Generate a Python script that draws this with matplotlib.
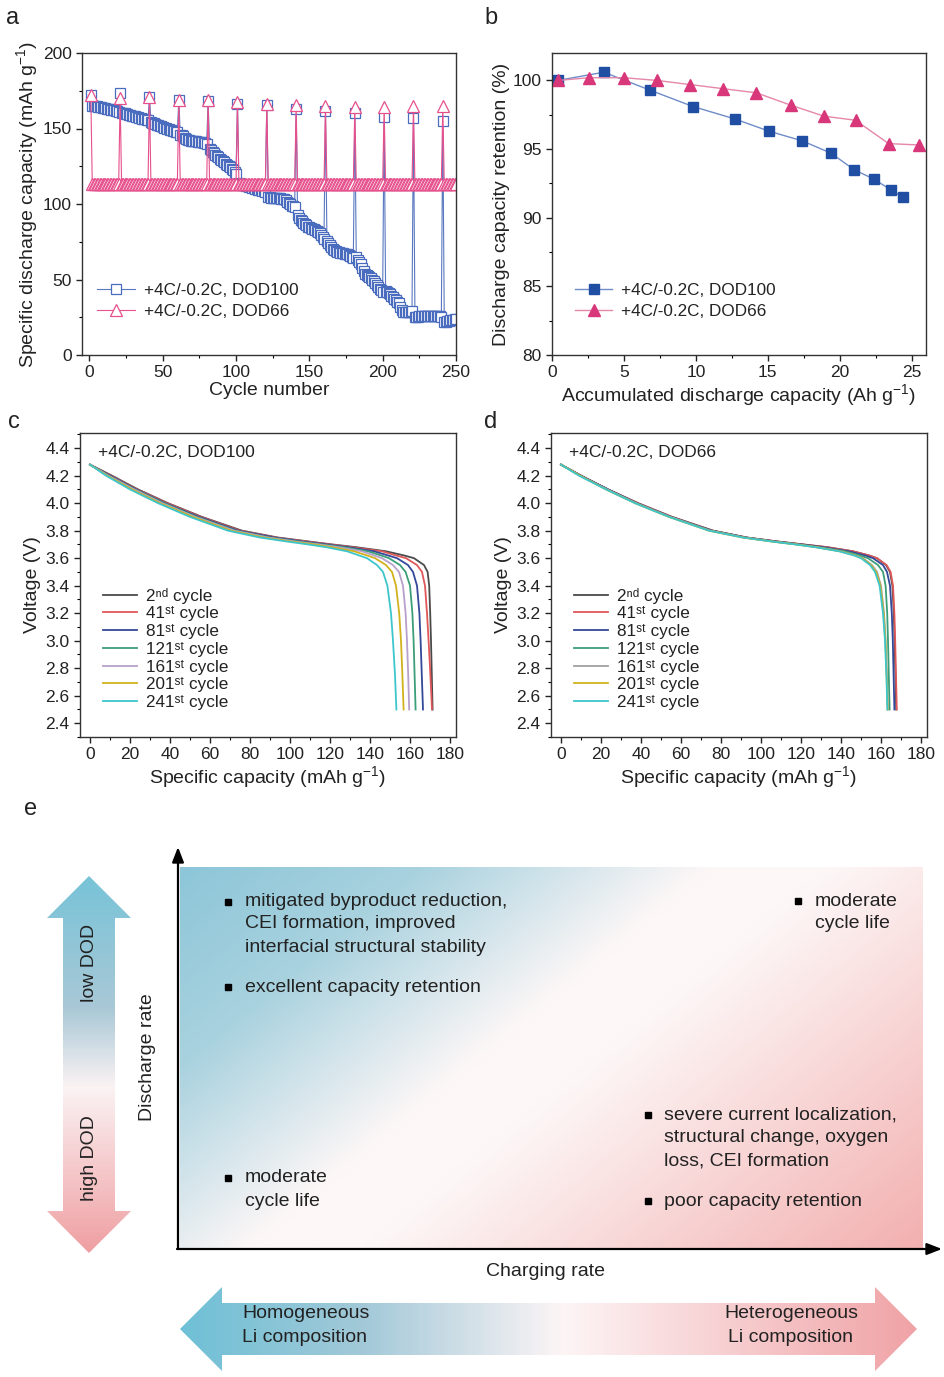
import numpy as np
import matplotlib
matplotlib.use("Agg")
import matplotlib.pyplot as plt
import matplotlib.ticker as ticker
from matplotlib.colors import LinearSegmentedColormap
from matplotlib.patches import Polygon

plt.rcParams['font.family'] = ['Liberation Sans', 'DejaVu Sans']
plt.rcParams['mathtext.fontset'] = 'custom'
plt.rcParams['mathtext.rm'] = 'Liberation Sans'
plt.rcParams['mathtext.it'] = 'Liberation Sans:italic'
plt.rcParams['axes.linewidth'] = 1.0

# ---------------- data: panel a (capacity vs cycle) ----------------
# check-up cycles 1, 21, 41, ... 241
dod100_check = [172, 173.5, 171, 169, 168.5, 166.5, 165.5, 163, 161.3, 160, 157.6, 157, 155]
dod66_check = [172, 170, 171, 169, 169, 167.5, 166.4, 165.3, 164.6, 164, 164, 164.6, 164.6]
dod66_regular = 113.0

# regular cycles between check-ups (2-20, 22-40, ..., 242-250)
dod100_blocks = [
    [165, 165, 164.8, 164.6, 164.4, 164.2, 164, 163.8, 163.6, 163.4, 163.2, 163, 162.8, 162.5, 162.3, 162, 161.8, 161.5, 161.2],
    [160.5, 160.2, 160, 159.7, 159.4, 159.1, 158.8, 158.5, 158.2, 158, 157.7, 157.4, 157.1, 156.8, 156.5, 156.2, 156, 155.7, 155.4],
    [154, 153.7, 153.4, 153, 152.6, 152.2, 151.8, 151.4, 151, 150.6, 150.2, 149.8, 149.5, 149.2, 148.9, 148.6, 148.3, 148, 147.6],
    [146, 145.5, 144.8, 143.6, 143, 142.6, 142.3, 142, 141.8, 141.6, 141.5, 141.4, 141.3, 141.2, 141, 140.8, 140.5, 140.3, 140],
    [136.6, 135.5, 134.5, 133.5, 132.5, 131.6, 130.8, 130, 129.2, 128.4, 127.6, 126.8, 126, 125.2, 124.2, 123.2, 122.2, 121.2, 120],
    [113.8, 113.3, 112.9, 112.6, 112.3, 112, 111.7, 111.4, 111.1, 110.8, 110.5, 110.2, 109.9, 109.6, 109.3, 109, 108.7, 108.4, 108],
    [104.5, 104.4, 104.3, 104.2, 104.1, 104, 104, 103.9, 103.8, 103.6, 103.4, 103, 102.4, 101.6, 100.6, 99.8, 99, 98.5, 98],
    [92.4, 91, 89.6, 88.6, 87.6, 86.6, 85.8, 85, 84.6, 84, 83.6, 83.2, 82.8, 82.4, 81.6, 80.6, 79.6, 78.4, 77],
    [75.8, 74.2, 72.8, 71.4, 70.4, 69.6, 68.9, 68.4, 68, 67.8, 67.6, 67.4, 67.2, 67, 66.6, 66.2, 65.6, 65, 64.5],
    [64.7, 63, 61.5, 60, 57.5, 55.5, 53.7, 53, 52.3, 51.5, 50.8, 50, 49.3, 48, 46.5, 45, 44, 42.8, 41.5],
    [42.7, 41.8, 41, 40.4, 39.3, 38.2, 37, 36.2, 35.4, 34.6, 32, 29.5, 28.3, 28.3, 28.3, 28.4, 28.6, 28.8, 29],
    [25, 25.2, 25.4, 25.6, 25.8, 25.9, 26, 26, 26, 26, 26, 26, 26, 26, 25.9, 25.8, 25.7, 25.6, 25.4],
    [21.7, 22, 22.3, 22.6, 22.9, 23.2, 23.5, 23.8, 24],
]

dod100 = []
dod66 = []
for chk100, chk66, block in zip(dod100_check, dod66_check, dod100_blocks):
    dod100 += [chk100] + block
    dod66 += [chk66] + [dod66_regular] * len(block)
cycles = np.arange(1, len(dod100) + 1)

# ---------------- data: panel b (retention) ----------------
acc100 = [0.4, 3.6, 6.8, 9.8, 12.7, 15.1, 17.4, 19.4, 21.0, 22.4, 23.6, 24.4]
ret100 = [100.0, 100.6, 99.3, 98.1, 97.2, 96.3, 95.6, 94.7, 93.5, 92.8, 92.0, 91.5]
acc66 = [0.4, 2.6, 5.0, 7.3, 9.6, 11.9, 14.2, 16.6, 18.9, 21.1, 23.4, 25.5]
ret66 = [100.0, 100.2, 100.2, 100.0, 99.7, 99.4, 99.1, 98.2, 97.4, 97.1, 95.4, 95.3]

# ---------------- data: panels c, d (voltage profiles) ----------------
volt_grid = [4.28, 4.2, 4.1, 4.0, 3.9, 3.8, 3.75, 3.72, 3.70, 3.68, 3.65, 3.62,
             3.60, 3.55, 3.50, 3.40, 3.20, 3.00, 2.75, 2.50]
cycle_labels = ['2ⁿᵈ cycle', '41ˢᵗ cycle', '81ˢᵗ cycle', '121ˢᵗ cycle',
                '161ˢᵗ cycle', '201ˢᵗ cycle', '241ˢᵗ cycle']
cycle_colors = ['#4a4a4a', '#e0575a', '#34489a', '#3b9e78', '#b8a0cc', '#d2b21c', '#3cc6cc']
cycle_colors_d = ['#4a4a4a', '#e0575a', '#34489a', '#3b9e78', '#a0a0a0', '#d2b21c', '#3cc6cc']

cap_c = [
    [0, 11, 24, 39, 56, 76, 94, 110, 121, 133, 148, 157, 162, 167, 168.8, 169.6, 170.1, 170.5, 170.9, 171.3],
    [0, 10.5, 23.5, 38.5, 55.5, 75, 93, 109, 120, 131, 146, 153, 158, 163.5, 166, 167.5, 168.5, 169.3, 170.2, 171],
    [0, 10, 23, 37.5, 54.5, 74, 92, 107, 118, 129, 142, 149, 153.5, 159, 161.5, 163.5, 164.7, 165.3, 165.9, 166.5],
    [0, 9.5, 22.5, 37, 53.5, 73, 90, 105, 116, 127, 139, 145.5, 149.5, 155, 157.8, 160, 161.2, 161.8, 162.3, 162.8],
    [0, 9, 22, 36, 52.5, 72, 89, 103, 114, 124, 136, 142, 146, 151.5, 154.5, 156.5, 157.8, 158.5, 159.1, 159.6],
    [0, 8.5, 21, 35, 51.5, 70.5, 87, 101, 112, 121, 132, 138.5, 142.5, 148, 151, 153, 154.6, 155.5, 156.2, 156.8],
    [0, 8, 20, 34, 50, 69, 85, 99, 109, 118, 128.5, 134.5, 138.5, 143.5, 146.5, 148.7, 150.5, 151.5, 152.5, 153.2],
]
cap_d = [
    [0, 10, 23.5, 38.5, 55.5, 76, 93, 109, 121, 133, 146, 154, 158, 162.5, 164.5, 165.7, 166.4, 166.8, 167.2, 167.6],
    [0, 10, 23.5, 38.5, 55.5, 76, 93, 109, 121, 133, 146, 154, 158, 162.8, 164.8, 166, 166.7, 167.1, 167.5, 167.9],
    [0, 10, 23.5, 38, 55, 75.5, 92.5, 108, 120, 131, 144, 152, 156, 161, 163, 164.5, 165.4, 165.9, 166.3, 166.7],
    [0, 9.5, 23, 37.5, 54.5, 75, 92, 107, 118.5, 129, 142, 149.5, 153.5, 158.5, 161, 162.3, 163.1, 163.5, 163.9, 164.3],
    [0, 9.5, 23, 37.5, 54.5, 74.5, 91.5, 106.5, 118, 128, 140, 147.5, 151, 155.5, 158, 160, 161.5, 162.3, 162.9, 163.4],
    [0, 9.5, 22.5, 37, 54, 74, 91, 106, 117.5, 127.5, 139.5, 147, 150.5, 155, 157.5, 159.7, 161.3, 162.2, 162.8, 163.3],
    [0, 9, 22.5, 37, 54, 74, 91, 106, 117, 127, 139, 146.5, 150, 154.5, 157, 159.3, 161, 162, 162.7, 163.2],
]

W, H = 944, 1377
fig = plt.figure(figsize=(W / 100, H / 100), dpi=100)

# overlay axes in pixel coordinates (for panel e and labels)
ov = fig.add_axes([0, 0, 1, 1])
ov.set_xlim(0, W)
ov.set_ylim(H, 0)
ov.axis('off')


def px_rect(left, top, right, bottom):
    return [left / W, 1 - bottom / H, (right - left) / W, (bottom - top) / H]


def style_axis(ax):
    ax.tick_params(which='major', direction='out', length=4.5, width=1, labelsize=12.5, colors='#222222', pad=3)
    ax.tick_params(which='minor', direction='out', length=2.5, width=0.8)
    for s in ax.spines.values():
        s.set_color('#333333')


TXT = '#222222'
FS_LAB = 14
FS_LEG = 12.3

# ---------------- panel a ----------------
ax = fig.add_axes(px_rect(82, 53, 456, 355))
ax.plot(cycles, dod100, '-s', color='#5a78c0', lw=0.8, ms=7.5, mfc='white', mec='#4a6cbf',
        mew=0.9, label='+4C/-0.2C, DOD100')
ax.plot(cycles, dod66, '-^', color='#e6508c', lw=0.8, ms=8.5, mfc='white', mec='#e6508c',
        mew=0.9, label='+4C/-0.2C, DOD66')
ax.set_xlim(-5, 250)
ax.set_ylim(0, 200)
ax.xaxis.set_major_locator(ticker.MultipleLocator(50))
ax.xaxis.set_minor_locator(ticker.MultipleLocator(25))
ax.yaxis.set_major_locator(ticker.MultipleLocator(50))
ax.yaxis.set_minor_locator(ticker.MultipleLocator(25))
style_axis(ax)
ax.set_xlabel('Cycle number', fontsize=FS_LAB, color=TXT, labelpad=1)
ax.set_ylabel('Specific discharge capacity (mAh g$^{\\mathregular{-1}}$)', fontsize=FS_LAB, color=TXT, labelpad=2)
ax.legend(loc='center left', bbox_to_anchor=(0.0, 0.18), frameon=False, fontsize=FS_LEG,
          handlelength=2.2, labelspacing=0.35, handletextpad=0.5, labelcolor=TXT)

# ---------------- panel b ----------------
ax = fig.add_axes(px_rect(552, 53, 926, 355))
ax.plot(acc100, ret100, '-s', color='#6f8cc8', lw=1.0, ms=7.5, mfc='#1f4ea3', mec='#1f4ea3',
        label='+4C/-0.2C, DOD100')
ax.plot(acc66, ret66, '-^', color='#e487aa', lw=1.0, ms=8.5, mfc='#d8377a', mec='#d8377a',
        label='+4C/-0.2C, DOD66')
ax.set_xlim(0, 26)
ax.set_ylim(80, 102)
ax.xaxis.set_major_locator(ticker.MultipleLocator(5))
ax.xaxis.set_minor_locator(ticker.MultipleLocator(2.5))
ax.yaxis.set_major_locator(ticker.MultipleLocator(5))
ax.yaxis.set_minor_locator(ticker.MultipleLocator(2.5))
style_axis(ax)
ax.set_xlabel('Accumulated discharge capacity (Ah g$^{\\mathregular{-1}}$)', fontsize=FS_LAB, color=TXT, labelpad=1)
ax.set_ylabel('Discharge capacity retention (%)', fontsize=FS_LAB, color=TXT, labelpad=2)
ax.legend(loc='center left', bbox_to_anchor=(0.02, 0.18), frameon=False, fontsize=FS_LEG,
          handlelength=2.2, labelspacing=0.35, handletextpad=0.5, labelcolor=TXT)

# ---------------- panels c and d ----------------
for rect, caps, colors, title in [((80, 433, 456, 737), cap_c, cycle_colors, '+4C/-0.2C, DOD100'),
                                  ((551, 433, 927, 737), cap_d, cycle_colors_d, '+4C/-0.2C, DOD66')]:
    ax = fig.add_axes(px_rect(*rect))
    for cap, col, lab in zip(caps, colors, cycle_labels):
        ax.plot(cap, volt_grid, color=col, lw=1.3, label=lab)
    ax.set_xlim(-5, 183)
    ax.set_ylim(2.3, 4.51)
    ax.xaxis.set_major_locator(ticker.MultipleLocator(20))
    ax.xaxis.set_minor_locator(ticker.MultipleLocator(10))
    ax.yaxis.set_major_locator(ticker.MultipleLocator(0.2))
    ax.yaxis.set_minor_locator(ticker.MultipleLocator(0.1))
    ax.yaxis.set_major_formatter(ticker.FormatStrFormatter('%.1f'))
    style_axis(ax)
    ax.set_xlabel('Specific capacity (mAh g$^{\\mathregular{-1}}$)', fontsize=FS_LAB, color=TXT, labelpad=1)
    ax.set_ylabel('Voltage (V)', fontsize=FS_LAB, color=TXT, labelpad=3)
    ax.text(0.048, 0.96, title, transform=ax.transAxes, fontsize=12.5, color=TXT, va='top')
    ax.legend(loc='center left', bbox_to_anchor=(0.02, 0.29), frameon=False, fontsize=12.3,
              handlelength=2.0, labelspacing=0.16, handletextpad=0.5, labelcolor=TXT)

# ---------------- panel labels ----------------
for lab, x, y in [('a', 6, 18), ('b', 484, 18), ('c', 8, 422), ('d', 484, 422), ('e', 24, 809)]:
    ov.text(x, y, lab, fontsize=17, ha='left', va='center', color=TXT)

# ---------------- panel e (schematic) ----------------
blue, white, pink = '#8dc6d9', '#fdf7f7', '#f3b0b0'
bg_cmap = LinearSegmentedColormap.from_list('bg', [(0, blue), (0.2, '#a9d2df'), (0.44, white),
                                                   (0.54, white), (1, pink)])
rx0, ry0, rx1, ry1 = 180, 867, 923, 1248
gx, gy = np.meshgrid(np.linspace(0, rx1 - rx0, 300), np.linspace(0, ry1 - ry0, 160))
grad = gx * 0.381 + gy * 0.463
grad = grad / grad.max()
ov.imshow(grad, cmap=bg_cmap, extent=[rx0, rx1, ry1, ry0], aspect='auto', interpolation='bicubic', zorder=1)

# axes arrows
ov.annotate('', xy=(178, 847), xytext=(178, 1249),
            arrowprops=dict(arrowstyle='-|>,head_length=0.9,head_width=0.35', lw=1.6, color='black',
                            shrinkA=0, shrinkB=0), zorder=3)
ov.annotate('', xy=(942, 1249), xytext=(177, 1249),
            arrowprops=dict(arrowstyle='-|>,head_length=0.9,head_width=0.35', lw=1.6, color='black',
                            shrinkA=0, shrinkB=0), zorder=3)

# vertical double arrow (low / high DOD)
arrow_cmap_v = LinearSegmentedColormap.from_list('av', [(0, '#78c3d8'), (0.35, '#a9c8d6'),
                                                        (0.56, '#fbf3f4'), (1, '#ef9fa2')])
vpoly = Polygon([(89, 876), (131, 918), (115, 918), (115, 1211), (131, 1211), (89, 1253),
                 (47, 1211), (63, 1211), (63, 918), (47, 918)], closed=True, fc='none', ec='none')
ov.add_patch(vpoly)
vgrad = np.linspace(0, 1, 200).reshape(-1, 1)
im = ov.imshow(vgrad, cmap=arrow_cmap_v, extent=[47, 131, 1253, 876], aspect='auto', zorder=2)
im.set_clip_path(vpoly)

# horizontal double arrow (Li composition)
arrow_cmap_h = LinearSegmentedColormap.from_list('ah', [(0, '#6fc0d6'), (0.25, '#a3c9d8'),
                                                        (0.52, '#fdf5f6'), (1, '#f0a3a6')])
hpoly = Polygon([(180, 1329), (222, 1287), (222, 1303), (875, 1303), (875, 1287), (917, 1329),
                 (875, 1371), (875, 1355), (222, 1355), (222, 1371)], closed=True, fc='none', ec='none')
ov.add_patch(hpoly)
hgrad = np.linspace(0, 1, 300).reshape(1, -1)
im = ov.imshow(hgrad, cmap=arrow_cmap_h, extent=[180, 917, 1371, 1287], aspect='auto', zorder=2)
im.set_clip_path(hpoly)

ov.set_xlim(0, W)
ov.set_ylim(H, 0)

fs_e = 14
ov.text(89, 963, 'low DOD', rotation=90, fontsize=fs_e, ha='center', va='center', color=TXT, zorder=4)
ov.text(89, 1158, 'high DOD', rotation=90, fontsize=fs_e, ha='center', va='center', color=TXT, zorder=4)
ov.text(148, 1057, 'Discharge rate', rotation=90, fontsize=fs_e, ha='center', va='center', color=TXT, zorder=4)
ov.text(545, 1272, 'Charging rate', fontsize=fs_e, ha='center', va='center', color=TXT, zorder=4)
ov.text(242, 1314, 'Homogeneous', fontsize=fs_e, ha='left', va='center', color=TXT, zorder=4)
ov.text(242, 1337, 'Li composition', fontsize=fs_e, ha='left', va='center', color=TXT, zorder=4)
ov.text(791, 1314, 'Heterogeneous', fontsize=fs_e, ha='center', va='center', color=TXT, zorder=4)
ov.text(791, 1337, 'Li composition', fontsize=fs_e, ha='center', va='center', color=TXT, zorder=4)

notes = [
    (228, 245, [(902, 'mitigated byproduct reduction,'), (924, 'CEI formation, improved'),
                (947, 'interfacial structural stability')]),
    (228, 245, [(987, 'excellent capacity retention')]),
    (798, 815, [(901, 'moderate'), (923, 'cycle life')]),
    (648, 664, [(1115, 'severe current localization,'), (1138, 'structural change, oxygen'),
                (1161, 'loss, CEI formation')]),
    (648, 664, [(1201, 'poor capacity retention')]),
    (228, 245, [(1178, 'moderate'), (1201, 'cycle life')]),
]
for bx, tx, lines in notes:
    ov.plot([bx], [lines[0][0]], 's', color='black', ms=5, zorder=4)
    for ty, s in lines:
        ov.text(tx, ty, s, fontsize=fs_e, ha='left', va='center', color=TXT, zorder=4)

fig.savefig('out.png', dpi=100)
